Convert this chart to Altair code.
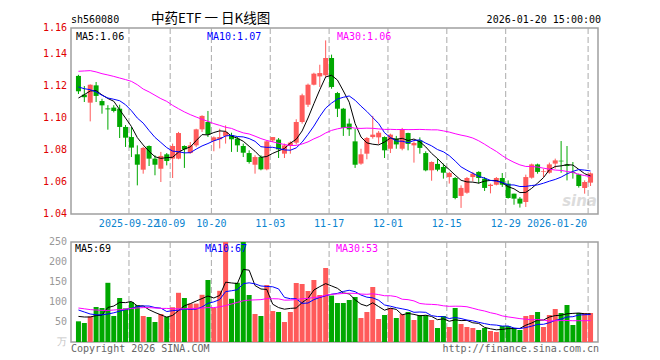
import altair as alt
import pandas as pd

MONO = "DejaVu Sans Mono"
CJK = "Noto Sans CJK SC"
RED = "#ff5a5a"
GREEN = "#00a800"

# ---- daily candles, index 0 = 2025-09-09 ----
opens = [1.1263, 1.1146, 1.1096, 1.1204, 1.1106, 1.1060, 1.1065, 1.1058, 1.0944, 1.0881,
         1.0773, 1.0677, 1.0825, 1.0746, 1.0683, 1.0773, 1.0746, 1.0746, 1.0825, 1.0781,
         1.0829, 1.0929, 1.0975, 1.0858, 1.0867, 1.0888, 1.0892, 1.0871, 1.0825, 1.0781,
         1.0708, 1.0756, 1.0679, 1.0860, 1.0865, 1.0777, 1.0825, 1.0846, 1.0975, 1.1083,
         1.1208, 1.1260, 1.1267, 1.1375, 1.1156, 1.1058, 1.0965, 1.0854, 1.0715, 1.0777,
         1.0881, 1.0879, 1.0881, 1.0808, 1.0871, 1.0808, 1.0906, 1.0829, 1.0860, 1.0781,
         1.0673, 1.0713, 1.0694, 1.0631, 1.0625, 1.0513, 1.0533, 1.0631, 1.0663, 1.0621,
         1.0575, 1.0583, 1.0625, 1.0590, 1.0527, 1.0496, 1.0475, 1.0627, 1.0710, 1.0663,
         1.0658, 1.0715, 1.0733, 1.0710, 1.0663, 1.0648, 1.0563, 1.0596]
highs = [1.1270, 1.1200, 1.1210, 1.1225, 1.1120, 1.1080, 1.1080, 1.1083, 1.0956, 1.0944,
         1.0829, 1.0820, 1.0829, 1.0767, 1.0788, 1.0781, 1.0840, 1.0913, 1.0829, 1.0850,
         1.0933, 1.1017, 1.1044, 1.0885, 1.0933, 1.0954, 1.0908, 1.0881, 1.0840, 1.0798,
         1.0767, 1.0767, 1.0860, 1.0881, 1.0875, 1.0840, 1.0854, 1.0992, 1.1152, 1.1215,
         1.1283, 1.1333, 1.1485, 1.1396, 1.1163, 1.1063, 1.0996, 1.0931, 1.0808, 1.0881,
         1.1013, 1.0919, 1.0885, 1.0902, 1.0888, 1.0938, 1.0908, 1.0854, 1.0879, 1.0792,
         1.0729, 1.0746, 1.0715, 1.0663, 1.0631, 1.0579, 1.0631, 1.0663, 1.0667, 1.0631,
         1.0590, 1.0631, 1.0656, 1.0610, 1.0527, 1.0506, 1.0646, 1.0715, 1.0715, 1.0683,
         1.0721, 1.0746, 1.0856, 1.0825, 1.0725, 1.0652, 1.0610, 1.0660]
lows = [1.1150, 1.1100, 1.0979, 1.1100, 1.1027, 1.0927, 1.1035, 1.0875, 1.0819, 1.0756,
        1.0579, 1.0652, 1.0700, 1.0642, 1.0600, 1.0704, 1.0625, 1.0742, 1.0688, 1.0777,
        1.0819, 1.0913, 1.0881, 1.0792, 1.0810, 1.0840, 1.0788, 1.0788, 1.0756, 1.0715,
        1.0652, 1.0673, 1.0673, 1.0850, 1.0750, 1.0750, 1.0777, 1.0835, 1.0965, 1.1069,
        1.1204, 1.1194, 1.1256, 1.1183, 1.1006, 1.0888, 1.0888, 1.0688, 1.0708, 1.0742,
        1.0871, 1.0838, 1.0750, 1.0781, 1.0808, 1.0798, 1.0798, 1.0721, 1.0777, 1.0667,
        1.0608, 1.0667, 1.0621, 1.0590, 1.0492, 1.0438, 1.0527, 1.0604, 1.0590, 1.0544,
        1.0529, 1.0579, 1.0569, 1.0496, 1.0458, 1.0440, 1.0444, 1.0621, 1.0652, 1.0631,
        1.0652, 1.0683, 1.0658, 1.0610, 1.0621, 1.0565, 1.0527, 1.0575]
closes = [1.1167, 1.1130, 1.1208, 1.1138, 1.1079, 1.1054, 1.1044, 1.0944, 1.0877, 1.0815,
          1.0708, 1.0813, 1.0746, 1.0708, 1.0763, 1.0731, 1.0825, 1.0906, 1.0804, 1.0829,
          1.0929, 1.1013, 1.0896, 1.0879, 1.0881, 1.0913, 1.0867, 1.0829, 1.0783, 1.0725,
          1.0756, 1.0679, 1.0854, 1.0881, 1.0804, 1.0829, 1.0846, 1.0975, 1.1142, 1.1208,
          1.1277, 1.1281, 1.1375, 1.1194, 1.1058, 1.0938, 1.0929, 1.0708, 1.0773, 1.0875,
          1.0896, 1.0908, 1.0798, 1.0896, 1.0835, 1.0929, 1.0838, 1.0844, 1.0813, 1.0673,
          1.0725, 1.0677, 1.0658, 1.0656, 1.0500, 1.0563, 1.0625, 1.0652, 1.0625, 1.0563,
          1.0583, 1.0625, 1.0583, 1.0500, 1.0496, 1.0465, 1.0631, 1.0710, 1.0663, 1.0667,
          1.0710, 1.0735, 1.0729, 1.0700, 1.0656, 1.0575, 1.0600, 1.0654]
volumes = [51.7, 47.5, 64, 87.5, 85, 148, 65, 110, 84, 100,
           92, 65, 62.5, 50, 70, 63, 87, 123, 110, 96,
           96, 118, 155, 85, 128, 262, 108, 148, 262, 117.5,
           70, 65, 142.5, 77.5, 75, 50, 75, 147.5, 145, 127.5,
           155, 117.5, 185, 116, 97.5, 97.5, 105, 112.5, 60, 75,
           137.5, 57.5, 67.5, 85, 60, 70, 75, 55, 67.5, 66.7,
           55, 35, 65, 37.5, 85, 45, 37.5, 35, 30, 35,
           27.5, 25, 40, 40, 35, 30, 65, 67.5, 75, 37.5,
           67.5, 82.5, 72.5, 92.5, 42.5, 72.5, 72.5, 72.5]

# moving-average values at the left edge (their windows start before the visible range)
ma5_head = [1.1125, 1.1146, 1.1169, 1.1171]
ma10_head = [1.1194, 1.1183, 1.1177, 1.1163, 1.1142, 1.1125, 1.1117, 1.1108, 1.1083]
ma30_head = [1.1292, 1.1294, 1.1296, 1.1288, 1.1277, 1.1269, 1.1260, 1.1250, 1.1240, 1.1229,
             1.1208, 1.1181, 1.1163, 1.1142, 1.1121, 1.1104, 1.1079, 1.1058, 1.1038, 1.1021,
             1.1006, 1.0992, 1.0979, 1.0965, 1.0954, 1.0942, 1.0935, 1.0920, 1.0907]
vma5_head = [64, 62.5, 62.5, 66]
vma10_head = [80, 75, 70, 68, 68, 70, 73, 77, 81]
vma30_head = [85, 83, 81, 80, 79, 79, 80, 81, 82, 84, 85, 86, 86, 85, 84, 84, 83, 83, 83, 84,
              84, 85, 86, 86, 88, 91, 95, 99, 103]

tick_index = [9, 16, 23, 33, 43, 53, 63, 73, 87]
tick_labels = ["2025-09-22", "10-09", "10-20", "11-03", "11-17", "12-01", "12-15", "12-29", "2026-01-20"]

price_ticks = [1.04, 1.06, 1.08, 1.10, 1.12, 1.14, 1.15625]
price_labels = ["1.04", "1.06", "1.08", "1.10", "1.12", "1.14", "1.16"]
vol_ticks = [0, 50, 100, 150, 200, 250]
vol_labels = ["万", "50", "100", "150", "200", "250"]


def moving(values, n, head):
    s = pd.Series(values).rolling(n).mean().tolist()
    return list(head) + s[len(head):]


df = pd.DataFrame({
    "k": list(range(len(closes))),
    "open": opens, "high": highs, "low": lows, "close": closes, "vol": volumes,
})
df["ma5"] = moving(closes, 5, ma5_head)
df["ma10"] = moving(closes, 10, ma10_head)
df["ma30"] = moving(closes, 30, ma30_head)
df["vma5"] = moving(volumes, 5, vma5_head)
df["vma10"] = moving(volumes, 10, vma10_head)
df["vma30"] = moving(volumes, 30, vma30_head)

grid_df = pd.DataFrame({"g": [i - 5 / 12 for i in tick_index], "label": tick_labels})
plab_df = pd.DataFrame({"v": price_ticks, "label": price_labels})
vlab_df = pd.DataFrame({"v": vol_ticks, "label": vol_labels})

W = 527
H_MAIN = 186
H_VOL = 100
xscale = alt.Scale(domain=[-5 / 12, 87 + 5 / 12], nice=False, zero=False)
pscale = alt.Scale(domain=[1.04, 1.15625], nice=False, zero=False)
vscale = alt.Scale(domain=[0, 250], nice=False)
X = alt.X("k:Q", scale=xscale, axis=None)
updown = alt.condition("datum.close >= datum.open", alt.value(RED), alt.value(GREEN))


def txt(s, x, y, color="#000000", size=10, align="left", baseline="alphabetic", font=MONO, **kw):
    return alt.Chart(pd.DataFrame({"t": [s]})).mark_text(
        align=align, baseline=baseline, font=font, fontSize=size, color=color, **kw
    ).encode(x=alt.value(x), y=alt.value(y), text="t:N")


def vgrid():
    return alt.Chart(grid_df).mark_rule(strokeDash=[6, 3], color="#aaaaaa", strokeWidth=1).encode(
        x=alt.X("g:Q", scale=xscale, axis=None)
    )


def grid_axis(values):
    return alt.Axis(values=values, labels=False, ticks=False, domain=False,
                    title=None, grid=True, gridDash=[1, 2], gridColor="#999999")


base = alt.Chart(df)

py = alt.Y("high:Q", scale=pscale, axis=grid_axis(price_ticks))
wick = base.mark_rule(strokeWidth=1).encode(x=X, y=py, y2="low:Q", color=updown)
body = base.mark_bar(size=5).encode(x=X, y=alt.Y("open:Q"), y2="close:Q", color=updown)
l5 = base.mark_line(color="#000000", strokeWidth=1).encode(x=X, y="ma5:Q")
l10 = base.mark_line(color="#0000ff", strokeWidth=1).encode(x=X, y="ma10:Q")
l30 = base.mark_line(color="#ff00ff", strokeWidth=1).encode(x=X, y="ma30:Q")

ylabels = alt.Chart(plab_df).mark_text(
    align="right", baseline="middle", font=MONO, fontSize=10, color="#e00000"
).encode(x=alt.value(-4), y=alt.Y("v:Q", scale=pscale, axis=None), text="label:N")

xlabels_c = alt.Chart(grid_df.iloc[:-1]).mark_text(
    align="center", baseline="middle", font=MONO, fontSize=10, color="#0a84cf"
).encode(x=alt.X("g:Q", scale=xscale, axis=None), y=alt.value(196), text="label:N")
xlabels_r = alt.Chart(grid_df.iloc[-1:]).mark_text(
    align="right", baseline="middle", font=MONO, fontSize=10, color="#0a84cf", dx=-1
).encode(x=alt.X("g:Q", scale=xscale, axis=None), y=alt.value(196), text="label:N")

main = alt.layer(
    txt("sina", 526, 178, color="#dcdcdc", size=15, align="right", font="DejaVu Sans",
        fontWeight="bold", fontStyle="italic"),
    vgrid(), wick, body, l5, l10, l30, ylabels,
    txt("MA5:1.06", 5, 12),
    txt("MA10:1.07", 136, 12, color="#0000ff"),
    txt("MA30:1.06", 266, 12, color="#ff00ff"),
    txt("sh560080", 0, -5.5),
    txt("中药ETF 一 日K线图", 80, -5.5, size=13.5, font=CJK),
    txt("2026-01-20 15:00:00", 530, -5.5, align="right"),
    xlabels_c, xlabels_r,
).properties(width=W, height=H_MAIN)

vy = alt.Y("vol:Q", scale=vscale, axis=grid_axis(vol_ticks))
vbar = base.mark_bar(size=5, clip=True).encode(x=X, y=vy, color=updown)
v5 = base.mark_line(color="#000000", strokeWidth=1).encode(x=X, y="vma5:Q")
v10 = base.mark_line(color="#0000ff", strokeWidth=1).encode(x=X, y="vma10:Q")
v30 = base.mark_line(color="#ff00ff", strokeWidth=1).encode(x=X, y="vma30:Q")

vlabels = alt.Chart(vlab_df).mark_text(
    align="right", baseline="middle", font=MONO, fontSize=10
).encode(
    x=alt.value(-4), y=alt.Y("v:Q", scale=vscale, axis=None), text="label:N",
    color=alt.condition("datum.v == 0", alt.value("#c4c4c4"), alt.value("#999999")),
)

vol = alt.layer(
    vgrid(), vbar, v5, v10, v30, vlabels,
    txt("MA5:69", 4, 9.5),
    txt("MA10:67", 134, 9.5, color="#0000ff"),
    txt("MA30:53", 265, 9.5, color="#ff00ff"),
    txt("Copyright 2026 SINA.COM", 0, 109.5, color="#666666"),
    txt("http://finance.sina.com.cn", 528, 109.5, color="#666666", align="right"),
).properties(width=W, height=H_VOL)

chart = alt.vconcat(main, vol, spacing=28, bounds="flush").properties(
    padding={"left": 34, "top": 2, "right": 5, "bottom": 2},
    background="#ffffff",
).configure_view(stroke="#a0a0a0", strokeWidth=1.5)

chart.save("out.html", embed_options={"renderer": "svg", "actions": False})
